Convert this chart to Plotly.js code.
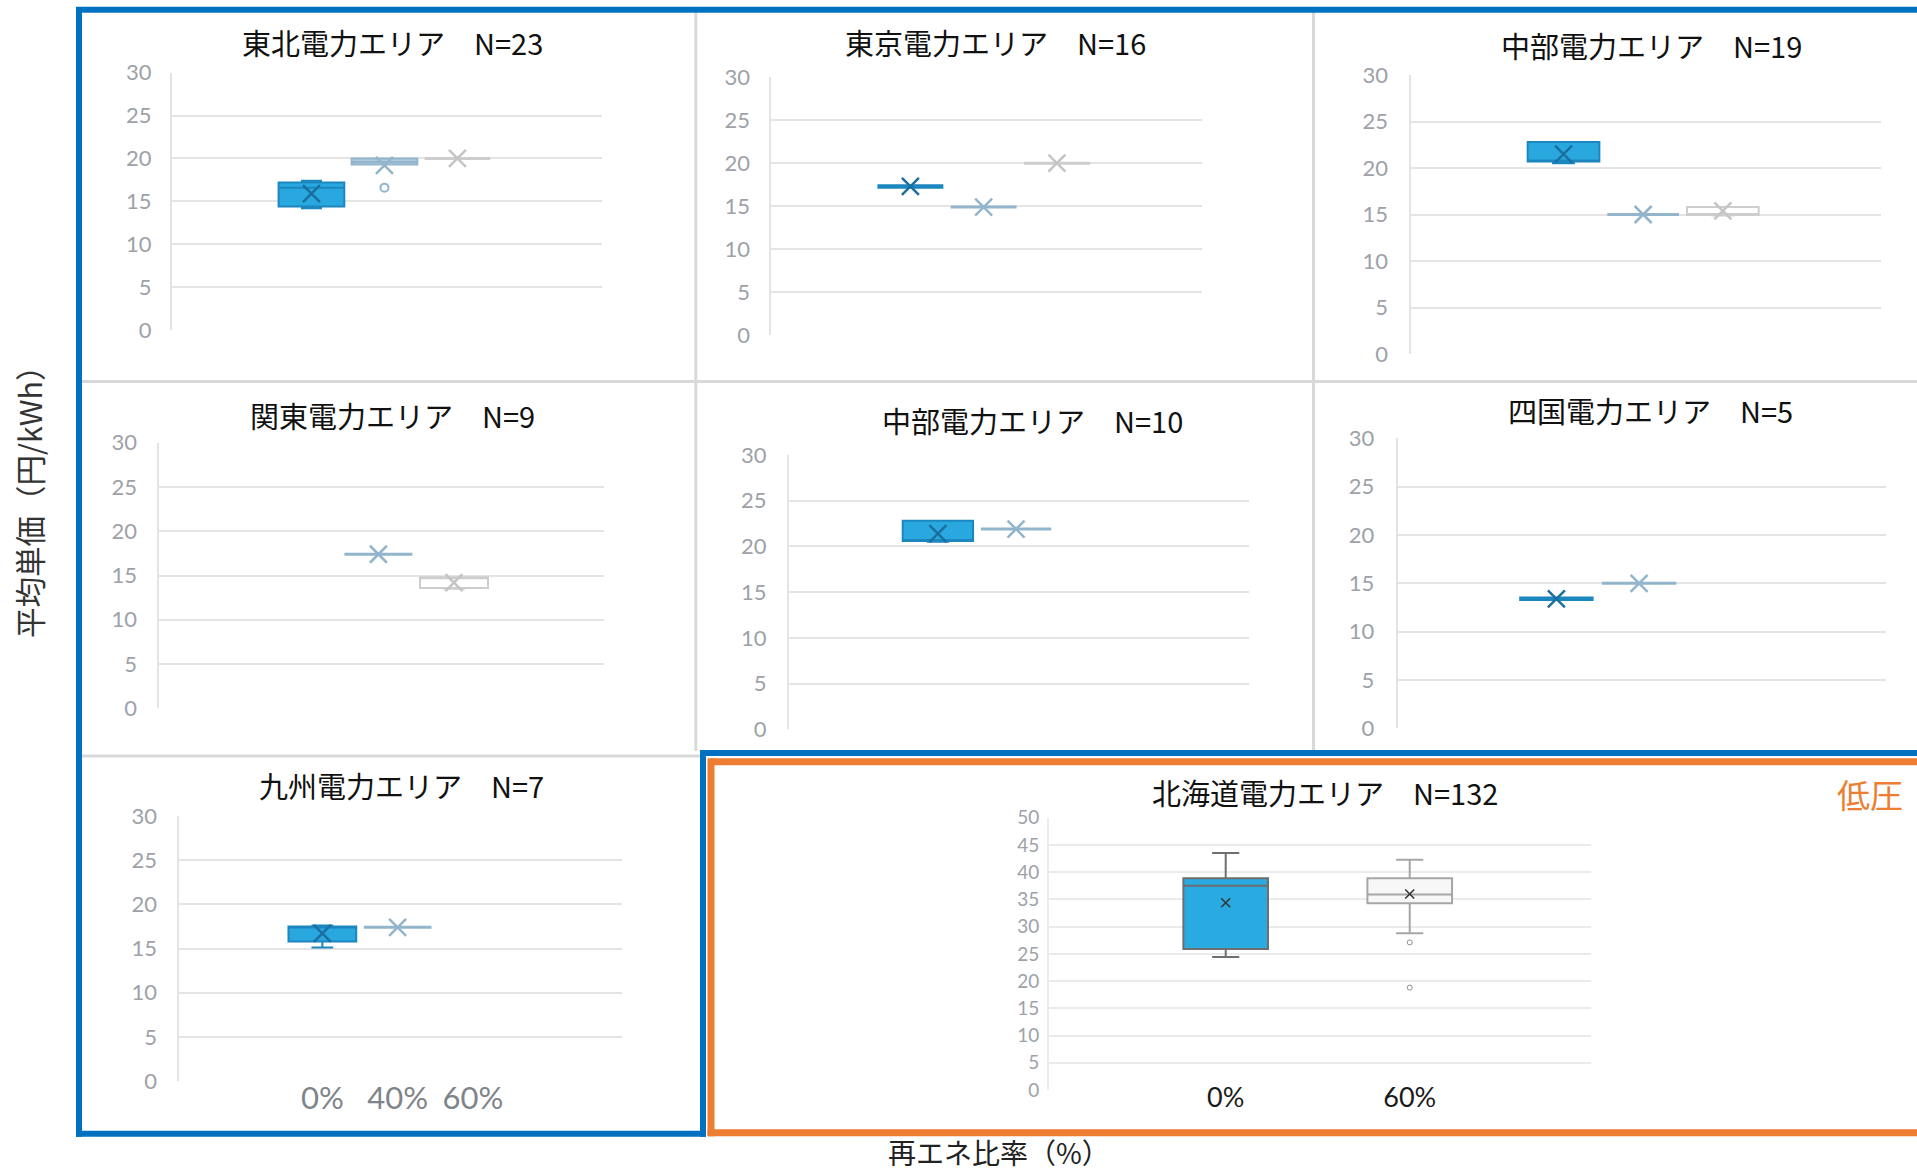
<!DOCTYPE html>
<html><head><meta charset="utf-8">
<script src="https://cdn.plot.ly/plotly-3.0.1.min.js"></script>
<style>html,body{margin:0;padding:0;background:#fff;overflow:hidden}</style>
</head><body><div id="chart" style="width:1917px;height:1171px"></div>
<script>
// ---------------- DATA ----------------
const panelTitles = ['東北電力エリア　N=23', '東京電力エリア　N=16', '中部電力エリア　N=19',
  '関東電力エリア　N=9', '中部電力エリア　N=10', '四国電力エリア　N=5',
  '九州電力エリア　N=7', '北海道電力エリア　N=132'];
const renewableCategories = ['0%', '40%', '60%'];
const hokkaidoCategories = ['0%', '60%'];
const yAxisTitle = '平均単価（円/kWh）';
const xAxisTitle = '再エネ比率（%）';
const voltageLabel = '低圧';

// rows = panels, columns = renewable-share categories (null = no data)
const lowerFenceValues = [
  [14.2, 19.3, 20.0],
  [17.3, 14.9, 20.0],
  [20.5, 15.0, 14.9],
  [null, 17.4, 13.5],
  [20.5, 21.9, null],
  [13.4, 15.0, null],
  [15.1, 17.4, null],
  [24.4, 28.8]
];
const q1Values = [
  [14.4, 19.3, 20.0],
  [17.3, 14.9, 20.0],
  [20.7, 15.0, 14.95],
  [null, 17.4, 13.6],
  [20.6, 21.9, null],
  [13.4, 15.0, null],
  [15.8, 17.4, null],
  [25.9, 34.3]
];
const medianValues = [
  [16.6, 19.6, 20.0],
  [17.3, 14.9, 20.0],
  [20.7, 15.0, 14.95],
  [null, 17.4, 14.8],
  [20.6, 21.9, null],
  [13.4, 15.0, null],
  [17.5, 17.4, null],
  [37.5, 35.9]
];
const q3Values = [
  [17.2, 20.0, 20.0],
  [17.3, 14.9, 20.0],
  [22.8, 15.0, 15.8],
  [null, 17.4, 14.8],
  [22.8, 21.9, null],
  [13.4, 15.0, null],
  [17.5, 17.4, null],
  [38.9, 38.9]
];
const upperFenceValues = [
  [17.4, 20.0, 20.0],
  [17.3, 14.9, 20.0],
  [22.8, 15.0, 15.8],
  [null, 17.4, 14.8],
  [22.8, 21.9, null],
  [13.4, 15.0, null],
  [17.6, 17.4, null],
  [43.5, 42.3]
];
const meanValues = [
  [15.9, 19.2, 20.0],
  [17.3, 14.9, 20.0],
  [21.5, 15.0, 15.4],
  [null, 17.4, 14.2],
  [21.4, 21.9, null],
  [13.4, 15.0, null],
  [16.7, 17.4, null],
  [34.4, 36.0]
];
const outlierValues = [
  [[], [16.6], []],
  [[], [], []],
  [[], [], []],
  [[], [], []],
  [[], [], []],
  [[], [], []],
  [[], [], []],
  [[], [27.1, 18.8]]
];

// ---------------- LAYOUT GEOMETRY (px) ----------------
const W = 1917, H = 1171;
const X = px => px / W;
const Y = py => 1 - py / H;

const panelGeom = [
  {x0: 172,    x1: 602,    y0: 72.7,  y1: 330,    gap: 18,   tx: 392,    ty: 41.7,  ymax: 30},
  {x0: 770.5,  x1: 1201.9, y0: 77.3,  y1: 335,    gap: 18,   tx: 995.6,  ty: 41.7,  ymax: 30},
  {x0: 1411.4, x1: 1880.5, y0: 75,    y1: 354,    gap: 21,   tx: 1651.5, ty: 45,    ymax: 30},
  {x0: 158.5,  x1: 603.6,  y0: 442.7, y1: 708.3,  gap: 19,   tx: 392,    ty: 415,   ymax: 30},
  {x0: 788.6,  x1: 1249,   y0: 455,   y1: 729.3,  gap: 19.6, tx: 1032,   ty: 420,   ymax: 30},
  {x0: 1398.4, x1: 1885.6, y0: 438.3, y1: 728.3,  gap: 21.7, tx: 1650,   ty: 410,   ymax: 30},
  {x0: 178.6,  x1: 621.9,  y0: 816,   y1: 1081,   gap: 19.2, tx: 401,    ty: 785,   ymax: 30, xlab: 1070},
  {x0: 1049.4, x1: 1591,   y0: 817.7, y1: 1090,   gap: 8.4,  tx: 1324.5, ty: 791.7, ymax: 50, xlab: 1073}
];

const smallStyle = [
  {fill: '#29A8E0', line: '#1C86BF', mark: '#1A6F9F', flatW: 4.5},
  {fill: '#AFCBDD', line: '#93B5CC', mark: '#93B5CC', flatW: 3},
  {fill: '#FFFFFF', line: '#CDCDCD', mark: '#C4C4C4', flatW: 3}
];
const hokkaidoStyle = [
  {fill: '#29ABE2', line: '#6E6E6E', mark: '#333333', flatW: 2},
  {fill: '#F7F7F7', line: '#A6A6A6', mark: '#333333', flatW: 2}
];

const traces = [];
const layout = {
  width: W, height: H,
  margin: {l: 0, r: 0, t: 0, b: 0},
  paper_bgcolor: '#FFFFFF', plot_bgcolor: 'rgba(0,0,0,0)',
  showlegend: false, hovermode: false,
  annotations: [], shapes: []
};

panelGeom.forEach((g, p) => {
  const suf = p === 0 ? '' : String(p + 1);
  const xa = 'x' + suf, ya = 'y' + suf;
  const isHk = p === 7;
  const cats = isHk ? hokkaidoCategories : renewableCategories;
  const styles = isHk ? hokkaidoStyle : smallStyle;
  const showX = (p === 6 || isHk);

  const xaxis = {
    domain: [X(g.x0), X(g.x1)], anchor: ya,
    type: 'category', categoryorder: 'array', categoryarray: cats,
    range: isHk ? [-0.958, 1.985] : [-1.91, 3.98],
    showgrid: false, zeroline: false, showline: false,
    showticklabels: showX,
    ticks: 'outside', ticklen: 1, tickcolor: 'rgba(0,0,0,0)',
    tickfont: isHk ? {family: 'Lato, Noto Sans', size: 27, color: '#1A1A1A'}
                   : {family: 'Lato, Noto Sans', size: 31, color: '#7F848A'},
    fixedrange: true
  };
  if (showX) { xaxis.anchor = 'free'; xaxis.position = Y(g.xlab); }
  layout['xaxis' + suf] = xaxis;
  layout['yaxis' + suf] = {
    domain: [Y(g.y1), Y(g.y0)], anchor: xa,
    range: [0, g.ymax], dtick: 5, tick0: 0,
    showgrid: true, gridcolor: isHk ? '#EBEBEB' : '#E4E4E4', gridwidth: 2,
    zeroline: false, showline: true, linecolor: isHk ? '#EBEBEB' : '#E4E4E4', linewidth: 2,
    ticks: 'outside', ticklen: Math.max(g.gap - 4, 1), tickcolor: 'rgba(0,0,0,0)',
    tickfont: {family: 'Lato, Noto Sans', size: isHk ? 19 : 22, color: '#9DA1A8'},
    fixedrange: true
  };

  cats.forEach((cat, s) => {
    const q1 = q1Values[p][s];
    if (q1 === null || q1 === undefined) return;
    const st = styles[s];
    const flat = q1Values[p][s] === q3Values[p][s];
    traces.push({
      type: 'box', xaxis: xa, yaxis: ya,
      x: [cat],
      q1: [q1], median: [medianValues[p][s]], q3: [q3Values[p][s]],
      lowerfence: [lowerFenceValues[p][s]], upperfence: [upperFenceValues[p][s]],
      width: isHk ? 0.46 : 0.9,
      whiskerwidth: 0.32,
      fillcolor: st.fill,
      line: {color: st.line, width: flat ? st.flatW : 2},
      boxpoints: false, showlegend: false, hoverinfo: 'skip'
    });
    traces.push({
      type: 'scatter', mode: 'markers', xaxis: xa, yaxis: ya,
      x: [cat], y: [meanValues[p][s]],
      marker: {symbol: 'x-thin-open', size: isHk ? 9 : 17,
               color: st.mark, line: {color: st.mark, width: isHk ? 1.5 : 2.5}},
      showlegend: false, hoverinfo: 'skip'
    });
    const outs = outlierValues[p][s];
    if (outs && outs.length) {
      traces.push({
        type: 'scatter', mode: 'markers', xaxis: xa, yaxis: ya,
        x: outs.map(() => cat), y: outs,
        marker: {symbol: 'circle-open', size: isHk ? 5 : 8,
                 color: isHk ? '#8C8C8C' : st.line, line: {color: isHk ? '#8C8C8C' : st.line, width: isHk ? 1 : 2}},
        showlegend: false, hoverinfo: 'skip'
      });
    }
  });

  layout.annotations.push({
    xref: 'paper', yref: 'paper', x: X(g.tx), y: Y(g.ty),
    xanchor: 'center', yanchor: 'middle', showarrow: false,
    text: panelTitles[p],
    font: {family: 'Noto Sans CJK JP', size: 29, color: '#111111'}
  });
});

layout.annotations.push(
  {xref: 'paper', yref: 'paper', x: X(29), y: Y(494), xanchor: 'center', yanchor: 'middle',
   showarrow: false, textangle: -90, text: yAxisTitle,
   font: {family: 'Noto Sans CJK JP', size: 30.5, color: '#333333'}},
  {xref: 'paper', yref: 'paper', x: X(999), y: Y(1152), xanchor: 'center', yanchor: 'middle',
   showarrow: false, text: xAxisTitle,
   font: {family: 'Noto Sans CJK JP', size: 28, color: '#222222'}},
  {xref: 'paper', yref: 'paper', x: X(1870), y: Y(794), xanchor: 'center', yanchor: 'middle',
   showarrow: false, text: voltageLabel,
   font: {family: 'Noto Sans CJK JP', size: 33, color: '#ED7D31'}}
);

function seg(x0, y0, x1, y1, color, width, layer) {
  return {type: 'line', xref: 'paper', yref: 'paper',
          x0: X(x0), y0: Y(y0), x1: X(x1), y1: Y(y1),
          line: {color: color, width: width}, layer: layer || 'above'};
}
const grey = '#D9D9D9', blue = '#0070C0', orange = '#ED7D31';
layout.shapes.push(
  seg(695.8, 12, 695.8, 751, grey, 3, 'below'),
  seg(1313.5, 12, 1313.5, 751, grey, 3, 'below'),
  seg(82, 381.5, 1917, 381.5, grey, 3, 'below'),
  seg(82, 756, 700, 756, grey, 3, 'below'),
  // blue frame
  seg(76, 9.7, 1917, 9.7, blue, 6),
  seg(79, 9.7, 79, 1136.7, blue, 6),
  seg(76, 1133.7, 706, 1133.7, blue, 6),
  seg(703, 1136.7, 703, 750, blue, 6),
  seg(700, 753, 1917, 753, blue, 6),
  // orange frame
  seg(711, 761.7, 1917, 761.7, orange, 7),
  seg(711, 758.2, 711, 1136.3, orange, 7),
  seg(707.5, 1132.8, 1917, 1132.8, orange, 7)
);

Plotly.newPlot('chart', traces, layout, {staticPlot: true, displayModeBar: false});
</script>
</body></html>
